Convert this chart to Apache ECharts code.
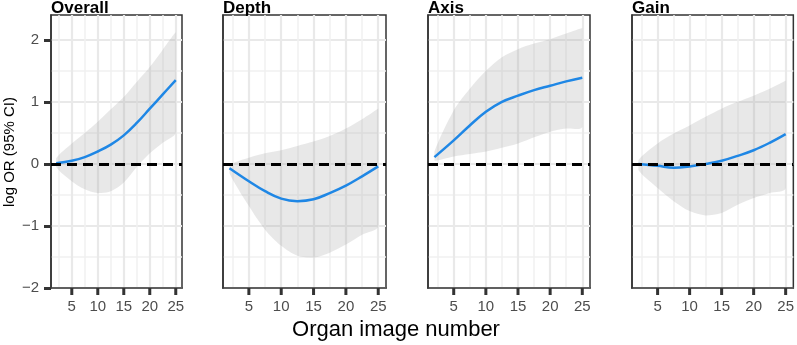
<!DOCTYPE html>
<html>
<head>
<meta charset="utf-8">
<script src="https://cdn.jsdelivr.net/npm/echarts@6/dist/echarts.min.js"></script>
<style>
html, body { margin: 0; padding: 0; background: #fff; }
#chart { width: 797px; height: 345px; }
</style>
</head>
<body>
<div id="chart"></div>
<script>
var myChart = echarts.init(document.getElementById('chart'));

var panelNames = ['Overall', 'Depth', 'Axis', 'Gain'];
var imageNumber = [2, 5, 7.5, 10, 12.5, 15, 17.5, 20, 22.5, 25];

var overallFit   = [0.01, 0.05, 0.11, 0.20, 0.31, 0.46, 0.66, 0.89, 1.12, 1.35];
var overallLower = [-0.05, -0.28, -0.41, -0.47, -0.44, -0.30, -0.05, 0.17, 0.34, 0.51];
var overallUpper = [0.09, 0.33, 0.50, 0.68, 0.88, 1.08, 1.32, 1.56, 1.84, 2.12];

var depthFit   = [-0.07, -0.28, -0.44, -0.56, -0.60, -0.57, -0.47, -0.35, -0.20, -0.04];
var depthLower = [-0.15, -0.68, -1.06, -1.32, -1.48, -1.51, -1.43, -1.30, -1.14, -1.00];
var depthUpper = [-0.02, 0.10, 0.17, 0.22, 0.29, 0.36, 0.45, 0.57, 0.72, 0.89];

var axisFit   = [0.11, 0.38, 0.62, 0.84, 1.00, 1.10, 1.19, 1.26, 1.33, 1.39];
var axisLower = [0.05, 0.12, 0.16, 0.20, 0.26, 0.33, 0.43, 0.52, 0.57, 0.60];
var axisUpper = [0.20, 0.86, 1.21, 1.50, 1.72, 1.85, 1.94, 2.01, 2.10, 2.19];

var gainFit   = [0.00, -0.03, -0.06, -0.04, 0.00, 0.05, 0.13, 0.22, 0.34, 0.48];
var gainLower = [-0.10, -0.39, -0.60, -0.76, -0.83, -0.79, -0.66, -0.55, -0.47, -0.39];
var gainUpper = [0.06, 0.33, 0.49, 0.62, 0.76, 0.89, 1.00, 1.10, 1.21, 1.34];

var xTicks = [5, 10, 15, 20, 25];
var xMinorTicks = [2.5, 7.5, 12.5, 17.5, 22.5];
var yTicks = [-2, -1, 0, 1, 2];
var yMinorTicks = [-1.5, -0.5, 0.5, 1.5];

var panelFits = [overallFit, depthFit, axisFit, gainFit];
var panelLowers = [overallLower, depthLower, axisLower, gainLower];
var panelUppers = [overallUpper, depthUpper, axisUpper, gainUpper];

// layout
var panelLeft = [51, 223, 428, 632];
var panelWidth = [131, 163, 162, 163];
var panelTop = 15;
var panelHeight = 273;
var yMin = -2, yMax = 2.4;
var font = '"Liberation Sans", Arial, sans-serif';

var grids = [], xAxes = [], yAxes = [], series = [], graphics = [];

panelNames.forEach(function (name, i) {
    grids.push({
        left: panelLeft[i], top: panelTop, width: panelWidth[i], height: panelHeight,
        show: true, borderColor: '#333', borderWidth: 1.5, backgroundColor: '#fff'
    });

    xAxes.push({
        type: 'value', gridIndex: i, min: 1, max: 26.2, position: 'bottom',
        axisLine: { show: true, onZero: false, lineStyle: { color: '#333', width: 1.5 } },
        axisTick: { show: false, customValues: xTicks },
        axisLabel: { customValues: xTicks, margin: 11, color: '#4d4d4d', fontSize: 15, fontFamily: font },
        splitLine: { show: true, lineStyle: { color: '#e9e9e9', width: 2.2 } }
    });
    xAxes.push({
        type: 'value', gridIndex: i, min: 1, max: 26.2, position: 'top',
        axisLine: { show: false },
        axisTick: { show: false, customValues: xMinorTicks },
        axisLabel: { show: false, customValues: xMinorTicks },
        splitLine: { show: true, lineStyle: { color: '#f1f1f1', width: 1.5 } }
    });

    yAxes.push({
        type: 'value', gridIndex: i, min: yMin, max: yMax, position: 'left',
        axisLine: { show: true, onZero: false, lineStyle: { color: '#333', width: 1.5 } },
        axisTick: { show: i === 0, length: 7, customValues: yTicks, lineStyle: { color: '#333', width: 3 } },
        axisLabel: {
            show: i === 0, customValues: yTicks, margin: 12, color: '#4d4d4d', fontSize: 15, fontFamily: font,
            formatter: function (v) { return v < 0 ? '\u2212' + Math.abs(v) : String(v); }
        },
        splitLine: { show: true, lineStyle: { color: '#e9e9e9', width: 2.2 } }
    });
    yAxes.push({
        type: 'value', gridIndex: i, min: yMin, max: yMax, position: 'right',
        axisLine: { show: false },
        axisTick: { show: false, customValues: yMinorTicks },
        axisLabel: { show: false, customValues: yMinorTicks },
        splitLine: { show: true, lineStyle: { color: '#f1f1f1', width: 1.5 } }
    });

    var lower = panelLowers[i], upper = panelUppers[i];
    series.push({
        type: 'custom',
        xAxisIndex: 2 * i, yAxisIndex: 2 * i,
        silent: true,
        data: imageNumber.map(function (x, k) { return [x, lower[k], upper[k]]; }),
        encode: { x: 0, y: [1, 2] },
        renderItem: function (params, api) {
            if (params.dataIndex !== 0) return;
            var pts = [];
            for (var k = 0; k < imageNumber.length; k++) pts.push(api.coord([imageNumber[k], upper[k]]));
            for (var k2 = imageNumber.length - 1; k2 >= 0; k2--) pts.push(api.coord([imageNumber[k2], lower[k2]]));
            return {
                type: 'polygon',
                shape: { points: pts, smooth: 0.3, smoothConstraint: [pts[0], pts[0]] },
                style: { fill: 'rgba(150,150,150,0.22)' }
            };
        }
    });

    series.push({
        type: 'line',
        xAxisIndex: 2 * i, yAxisIndex: 2 * i,
        data: imageNumber.map(function (x, k) { return [x, panelFits[i][k]]; }),
        smooth: 0.4,
        showSymbol: false,
        silent: true,
        lineStyle: { color: '#1f87e5', width: 2.5 },
        markLine: {
            silent: true, symbol: 'none', label: { show: false },
            lineStyle: { color: '#000', width: 3, type: [10, 6] },
            data: [{ yAxis: 0 }]
        }
    });

    graphics.push({
        type: 'text', x: panelLeft[i], y: 8,
        style: { text: name, font: 'bold 17px ' + font, fill: '#000', align: 'left', verticalAlign: 'middle' }
    });
});

graphics.push({
    type: 'text', x: 396, y: 330,
    style: { text: 'Organ image number', font: '22px ' + font, fill: '#000', align: 'center', verticalAlign: 'middle' }
});
graphics.push({
    type: 'text', x: 10, y: 152, rotation: Math.PI / 2,
    style: { text: 'log OR (95% CI)', font: '15px ' + font, fill: '#000', align: 'center', verticalAlign: 'middle' }
});

option = {
    backgroundColor: '#fff',
    animation: false,
    grid: grids,
    xAxis: xAxes,
    yAxis: yAxes,
    series: series,
    graphic: graphics
};

myChart.setOption(option);

// x tick marks, placed through the axes' own scales
var tickMarks = [];
panelNames.forEach(function (name, i) {
    xTicks.forEach(function (v) {
        var p = myChart.convertToPixel({ xAxisIndex: 2 * i, yAxisIndex: 2 * i }, [v, yMin]);
        if (!p) return;
        tickMarks.push({
            type: 'line', z: 100, silent: true,
            shape: { x1: p[0], y1: p[1], x2: p[0], y2: p[1] + 7 },
            style: { stroke: '#333', lineWidth: 3 }
        });
    });
});
myChart.setOption({ graphic: graphics.concat(tickMarks) });
</script>
</body>
</html>
